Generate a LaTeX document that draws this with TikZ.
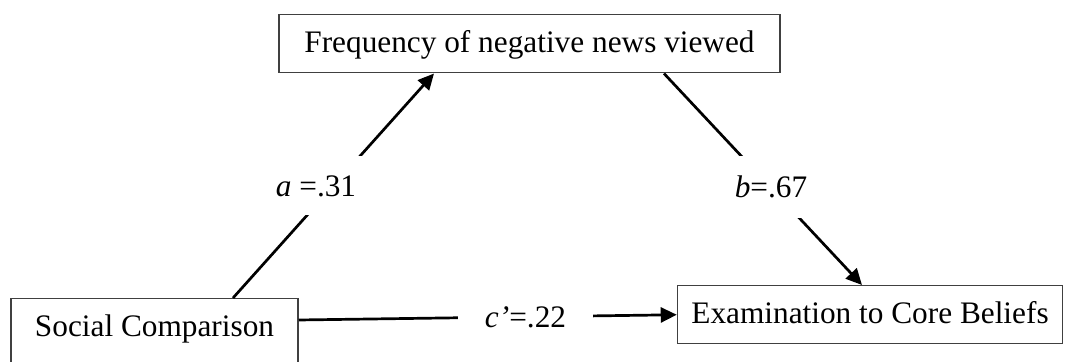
\documentclass[tikz,border=0pt]{standalone}
\usepackage{fontspec}
\setmainfont{Liberation Serif}
\usetikzlibrary{arrows.meta}

\tikzset{
  varbox/.style={draw=black!75,line width=0.75pt,inner xsep=0pt,inner ysep=0pt,
    text height=19pt,text depth=10pt,anchor=north},
  pathlab/.style={fill=white,inner sep=0pt},
  conn/.style={line width=1.35pt},
  arr/.style={conn,-{Triangle[length=8pt,width=7.5pt]}},
}

\begin{document}
\begin{tikzpicture}[x=0.5pt,y=-0.5pt,font=\fontsize{15.65pt}{18pt}\selectfont]
  \path[use as bounding box] (0,0) rectangle (1066,362);
  \clip (0,0) rectangle (1066,362);
  % variables
  \node[varbox,minimum width=250.5pt] (freq) at (529.5,14) {Frequency of negative news viewed};
  \node[varbox,minimum width=192.5pt] (exam) at (870,285) {Examination to Core Beliefs};
  \node[varbox,minimum width=143.5pt,text depth=24pt] (soc) at (154.5,298) {Social Comparison};
  % paths
  \draw[arr] ([xshift=39.25pt]soc.north) -- ([xshift=-47.75pt]freq.south);
  \draw[arr] ([xshift=67.25pt]freq.south) -- ([xshift=-4pt]exam.north);
  \draw[arr] ([yshift=-11pt]soc.north east) -- (exam.west);
  % coefficients
  \node[pathlab,minimum width=46pt,minimum height=29.5pt] (la) at (316,186) {\textit{a} =.31};
  \node[pathlab,minimum width=41pt,minimum height=31pt] (lb) at (771,187) {\textit{b}=.67};
  \node[pathlab,minimum width=67.5pt,minimum height=17.5pt] (lc) at (525.5,317) {\textit{c’}=.22};
\end{tikzpicture}
\end{document}
